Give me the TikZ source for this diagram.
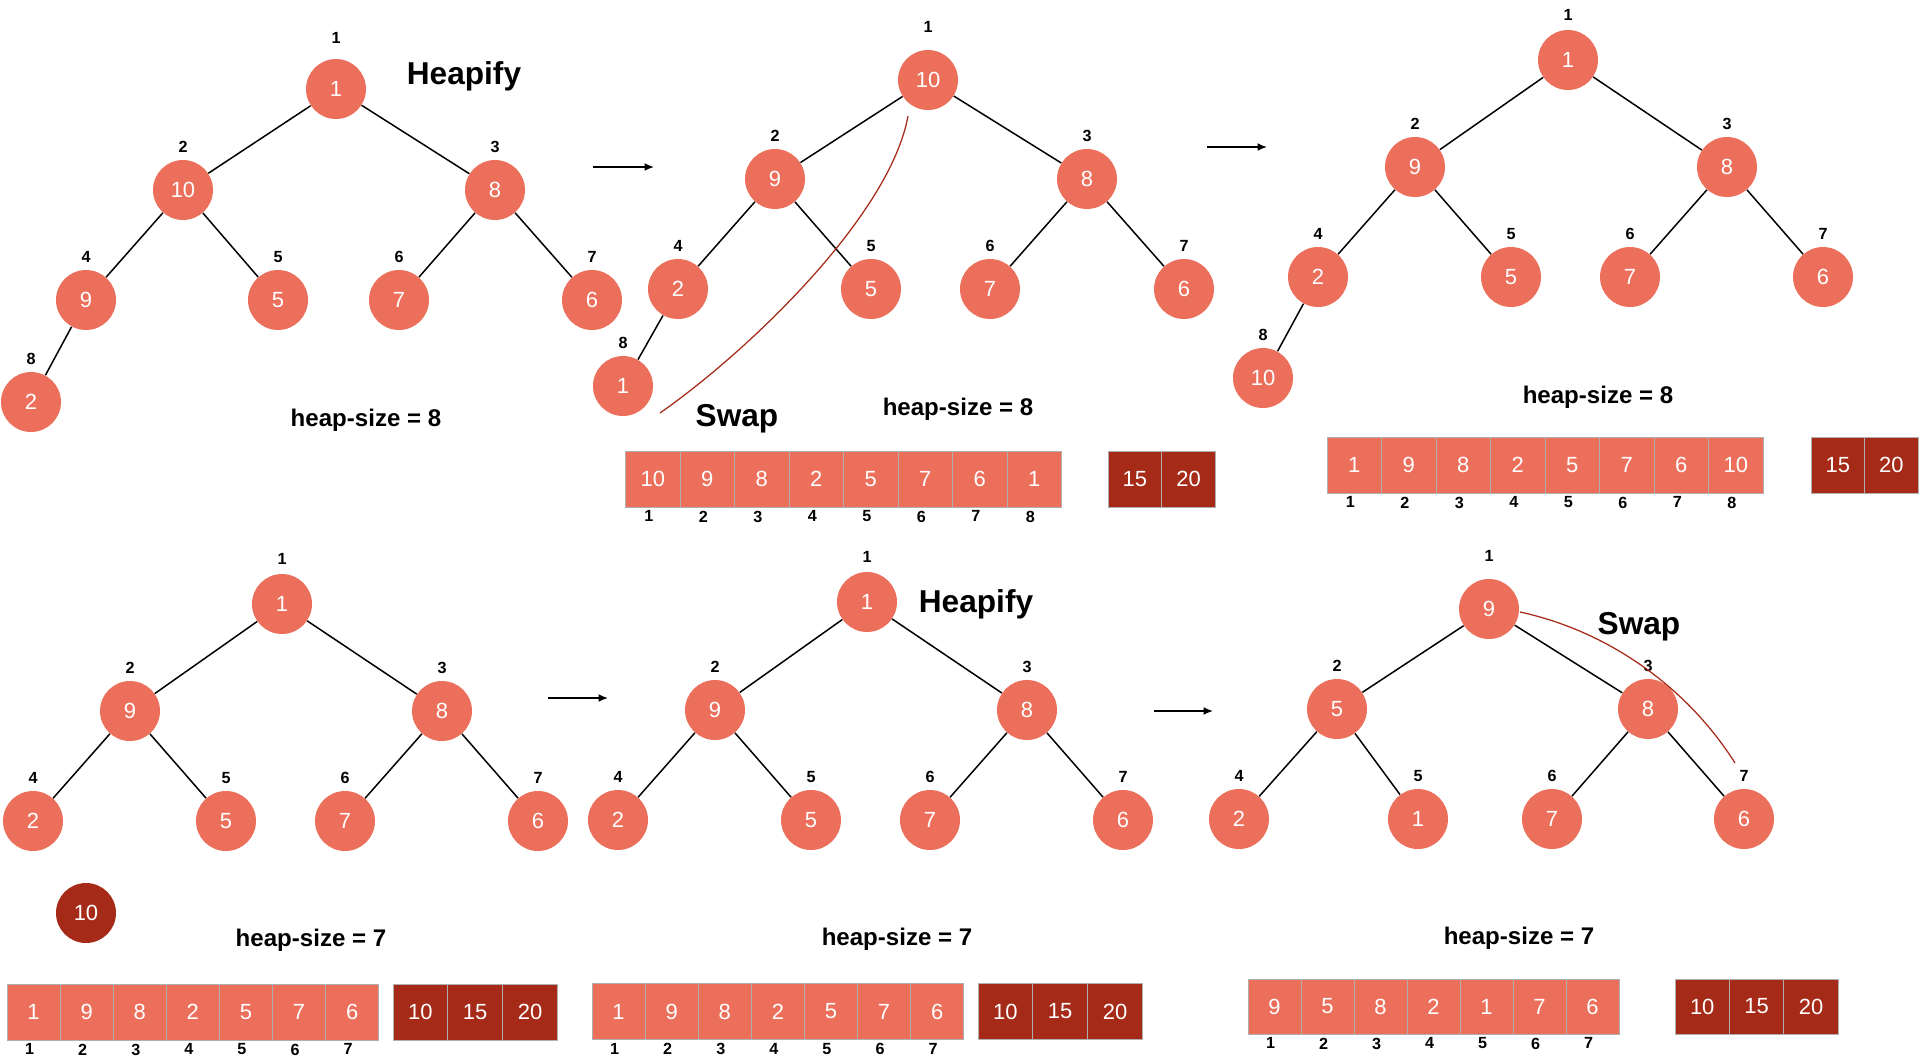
\documentclass[tikz,border=0pt]{standalone}
\usepackage{fontspec}
\setmainfont{Liberation Sans}
\usetikzlibrary{arrows.meta}
\definecolor{heapcoral}{RGB}{236,111,91}
\definecolor{heapred}{RGB}{166,42,24}
\definecolor{cellgray}{RGB}{175,175,175}

\begin{document}
\begin{tikzpicture}[
x=0.02cm,y=-0.02cm,
>={Latex[length=0.19cm,width=0.16cm]},
hnode/.style={
	circle,
	fill=heapcoral,
	text=white,
	minimum size=1.2cm,
	inner sep=0pt,
	font=\fontsize{12.5}{14}\selectfont
},
outnode/.style={
	hnode,
	fill=heapred
},
idx/.style={
	inner sep=0pt,
	font=\fontsize{9.2}{10}\selectfont\bfseries
},
up/.style={
	idx,
	yshift=#1
},
up/.default=0.13cm,
cell/.style={
	rectangle,
	draw=cellgray,
	fill=heapcoral,
	text=white,
	line width=0.02cm,
	minimum height=1.12cm,
	inner sep=0pt,
	font=\fontsize{12.5}{14}\selectfont
},
outcell/.style={
	cell,
	fill=heapred
},
down/.style={
	idx,
	yshift=-0.06cm,
	xshift=-0.08cm
},
link/.style={
	line width=0.03cm
},
stepto/.style={
	->,
	line width=0.03cm
},
swapline/.style={
	heapred,
	line width=0.025cm
},
steptitle/.style={
	font=\fontsize{18}{21}\selectfont\bfseries
},
heapsize/.style={
	font=\fontsize{13.7}{16}\selectfont\bfseries
}
]
\useasboundingbox (0,0) rectangle (1921,1063);

\node[hnode,label={[up=0.29cm]above:1}] (a1) at (336,89) {1};
\foreach \i/\x/\y/\v in {2/183/190/10,3/495/190/8,4/86/300/9,5/278/300/5,6/399/300/7,7/592/300/6,8/31/402/2}
\node[hnode,label={[up]above:\i}] (a\i) at (\x,\y) {\v};
\foreach \c/\p in {2/1,3/1,4/2,5/2,6/3,7/3,8/4}
\draw[link] (a\p) -- (a\c);

\node[hnode,label={[up=0.33cm]above:1}] (b1) at (928,80) {10};
\foreach \i/\x/\y/\v in {2/775/179/9,3/1087/179/8,4/678/289/2,5/871/289/5,6/990/289/7,7/1184/289/6,8/623/386/1}
\node[hnode,label={[up]above:\i}] (b\i) at (\x,\y) {\v};
\foreach \c/\p in {2/1,3/1,4/2,5/2,6/3,7/3,8/4}
\draw[link] (b\p) -- (b\c);

\node[hnode,label={[up=0.17cm]above:1}] (c1) at (1568,60) {1};
\foreach \i/\x/\y/\v in {2/1415/167/9,3/1727/167/8,4/1318/277/2,5/1511/277/5,6/1630/277/7,7/1823/277/6,8/1263/378/10}
\node[hnode,label={[up]above:\i}] (c\i) at (\x,\y) {\v};
\foreach \c/\p in {2/1,3/1,4/2,5/2,6/3,7/3,8/4}
\draw[link] (c\p) -- (c\c);

\node[hnode,label={[up=0.17cm]above:1}] (d1) at (282,604) {1};
\foreach \i/\x/\y/\v in {2/130/711/9,3/442/711/8,4/33/821/2,5/226/821/5,6/345/821/7,7/538/821/6}
\node[hnode,label={[up]above:\i}] (d\i) at (\x,\y) {\v};
\foreach \c/\p in {2/1,3/1,4/2,5/2,6/3,7/3}
\draw[link] (d\p) -- (d\c);
\node[outnode] (dout) at (86,913) {10};

\node[hnode,label={[up=0.17cm]above:1}] (e1) at (867,602) {1};
\foreach \i/\x/\y/\v in {2/715/710/9,3/1027/710/8,4/618/820/2,5/811/820/5,6/930/820/7,7/1123/820/6}
\node[hnode,label={[up]above:\i}] (e\i) at (\x,\y) {\v};
\foreach \c/\p in {2/1,3/1,4/2,5/2,6/3,7/3}
\draw[link] (e\p) -- (e\c);

\node[hnode,label={[up=0.33cm]above:1}] (f1) at (1489,609) {9};
\foreach \i/\x/\y/\v in {2/1337/709/5,3/1648/709/8,4/1239/819/2,5/1418/819/1,6/1552/819/7,7/1744/819/6}
\node[hnode,label={[up]above:\i}] (f\i) at (\x,\y) {\v};
\foreach \c/\p in {2/1,3/1,4/2,5/2,6/3,7/3}
\draw[link] (f\p) -- (f\c);

\foreach \v [count=\k] in {10,9,8,2,5,7,6,1}
\node[cell,minimum width=1.09cm,label={[down]below:\k}] (ba\k) at ({625.5+(\k-0.5)*54.5},479) {\v};
\foreach \v [count=\k] in {15,20}
\node[outcell,minimum width=1.074cm] (bo\k) at ({1108+(\k-0.5)*53.7},479) {\v};

\foreach \v [count=\k] in {1,9,8,2,5,7,6,10}
\node[cell,minimum width=1.09cm,label={[down]below:\k}] (ca\k) at ({1327+(\k-0.5)*54.5},465) {\v};
\foreach \v [count=\k] in {15,20}
\node[outcell,minimum width=1.07cm] (co\k) at ({1811+(\k-0.5)*53.5},465) {\v};

\foreach \v [count=\k] in {1,9,8,2,5,7,6}
\node[cell,minimum width=1.062cm,label={[down]below:\k}] (da\k) at ({7+(\k-0.5)*53.1},1012) {\v};
\foreach \v [count=\k] in {10,15,20}
\node[outcell,minimum width=1.096cm] (do\k) at ({393+(\k-0.5)*54.8},1012) {\v};

\foreach \v [count=\k] in {1,9,8,2,5,7,6}
\node[cell,minimum width=1.062cm,label={[down]below:\k}] (ea\k) at ({592+(\k-0.5)*53.1},1011.5) {\v};
\foreach \v [count=\k] in {10,15,20}
\node[outcell,minimum width=1.096cm] (eo\k) at ({978+(\k-0.5)*54.8},1011.5) {\v};

\foreach \v [count=\k] in {9,5,8,2,1,7,6}
\node[cell,minimum width=1.06cm,minimum height=1.1cm,label={[down]below:\k}] (fa\k) at ({1248+(\k-0.5)*53},1006.5) {\v};
\foreach \v [count=\k] in {10,15,20}
\node[outcell,minimum width=1.088cm,minimum height=1.1cm] (fo\k) at ({1675+(\k-0.5)*54.4},1006.5) {\v};

\node[steptitle] (heap1) at (464,76) {Heapify};
\node[steptitle] (heap2) at (976,604) {Heapify};
\node[steptitle] (swap1) at (737,419) {Swap};
\node[steptitle] (swap2) at (1639,627) {Swap};
\node[heapsize] (size1) at (366,420) {heap-size = 8};
\node[heapsize] (size2) at (958,409) {heap-size = 8};
\node[heapsize] (size3) at (1598,397) {heap-size = 8};
\node[heapsize] (size4) at (311,940) {heap-size = 7};
\node[heapsize] (size5) at (897,939) {heap-size = 7};
\node[heapsize] (size6) at (1519,938) {heap-size = 7};

\foreach \n/\xa/\xb/\y in {1/593/654/167,2/1207/1267/147,3/548/608/698,4/1154/1213/711}{
\coordinate (s\n) at (\xa,\y);
\coordinate (t\n) at (\xb,\y);
\draw[stepto] (s\n) -- (t\n);
}

\coordinate (sw1) at (660,413);
\coordinate (sw2) at (908,116);
\draw[swapline] (sw1) .. controls (750,350) and (890,215) .. (sw2);
\coordinate (sw3) at (1520,612);
\coordinate (sw4) at (1735,763);
\draw[swapline] (sw3) .. controls (1608,631) and (1687,687) .. (sw4);
\end{tikzpicture}
\end{document}
